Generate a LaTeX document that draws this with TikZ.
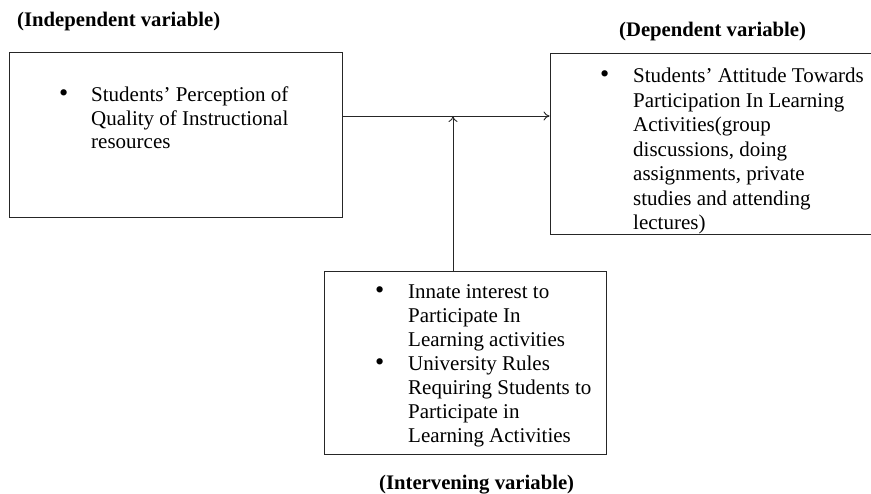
\documentclass[tikz,border=0pt]{standalone}
\usepackage{fontspec}
\setmainfont{Liberation Serif}
\usetikzlibrary{arrows.meta}
\newcommand{\bul}[1]{\makebox[#1][l]{\scalebox{1.25}{\textbullet}}}
\begin{document}
\begin{tikzpicture}[x=1pt,y=-1pt,
  box/.style={draw=black!85,line width=0.9pt,rectangle,inner sep=0pt},
  body/.style={anchor=base west,inner sep=0pt,font=\fontsize{21}{24}\selectfont},
  lab/.style={anchor=base west,inner sep=0pt,font=\fontsize{20.7}{24}\selectfont\bfseries},
  conn/.style={draw=black!85,line width=0.9pt,-{To[length=6pt,width=9pt]}}]
\useasboundingbox (0,0) rectangle (871,494);
% boxes
\node[box,minimum width=333pt,minimum height=165pt] (indep) at (175.5,134.5) {};
\node[box,minimum width=325pt,minimum height=181pt] (dep) at (712.5,143.5) {};
\node[box,minimum width=282pt,minimum height=183pt] (inter) at (465,362.5) {};
\coordinate (meet) at (453,116);
% texts
\node[body,font=\fontsize{21}{23.4}\selectfont] (t1) at (59,102) {\begin{tabular}[t]{@{}l@{}l@{}}
\bul{32pt} & Students’ Perception of\\
 & Quality of Instructional\\
 & resources
\end{tabular}};
\node[body,font=\fontsize{21}{24.5}\selectfont] (t2) at (600,83) {\begin{tabular}[t]{@{}l@{}l@{}}
\bul{33pt} & Students’ Attitude Towards\\
 & Participation In Learning\\
 & Activities(group\\
 & discussions, doing\\
 & assignments, private\\
 & studies and attending\\
 & lectures)
\end{tabular}};
\node[body] (t3) at (375,299) {\begin{tabular}[t]{@{}l@{}l@{}}
\bul{33pt} & Innate interest to\\
 & Participate In\\
 & Learning activities\\
\bul{33pt} & University Rules\\
 & Requiring Students to\\
 & Participate in\\
 & Learning Activities
\end{tabular}};
% labels
\node[lab] (l1) at (17,27) {(Independent variable)};
\node[lab] (l2) at (619,37) {(Dependent variable)};
\node[lab] (l3) at (379,489.5) {(Intervening variable)};
% connectors
\draw[conn] (indep.east |- meet) -- (dep.west |- meet);
\draw[conn] (inter.north -| meet) -- (meet);
\end{tikzpicture}
\end{document}
